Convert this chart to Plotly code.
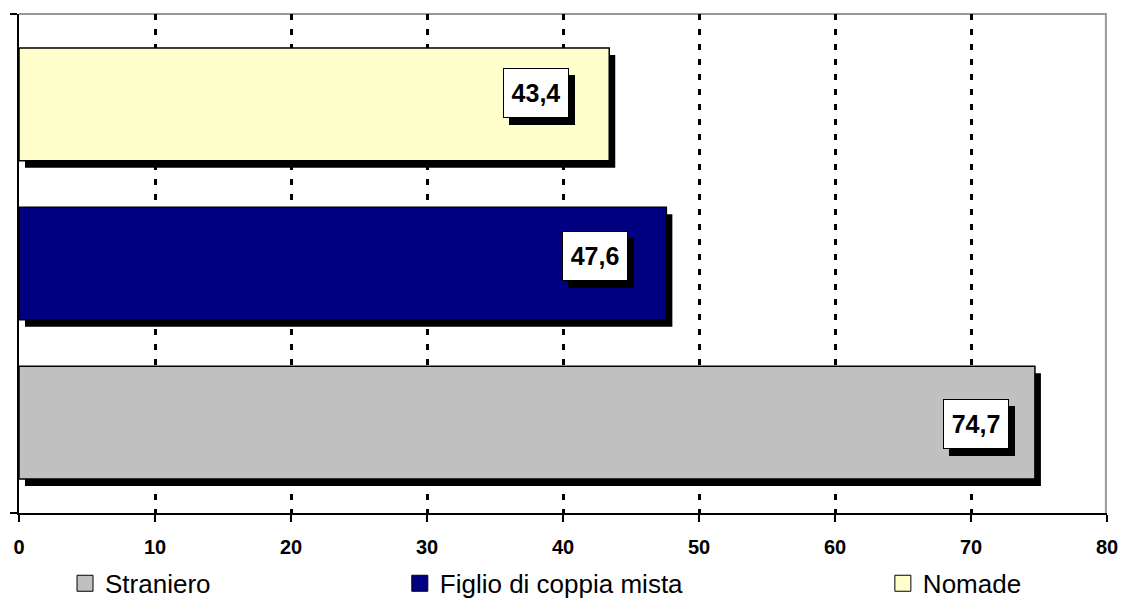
import plotly.graph_objects as go

# Percentuali per gruppo (dal basso verso l'alto)
categories = ["Straniero", "Figlio di coppia mista", "Nomade"]
values = [74.7, 47.6, 43.4]
bar_colors = ["#C0C0C0", "#000080", "#FFFFCC"]
x_ticks = [0, 10, 20, 30, 40, 50, 60, 70, 80]

FONT = "Liberation Sans, Arial, sans-serif"

# pixel geometry of the plot area, used to convert pixel offsets to data units
PLOT_W, PLOT_H = 1088, 498.5
X_RANGE = [0, 80]
Y_RANGE = [-0.568, 2.568]
px_x = PLOT_W / (X_RANGE[1] - X_RANGE[0])
px_y = PLOT_H / (Y_RANGE[1] - Y_RANGE[0])

BAR_W = 0.708
SHADOW_DX, SHADOW_DY = 6, 7  # drop-shadow offset in pixels

# value-label nudges in pixels (right edge of box relative to bar end, vertical)
label_dx = [-26, -38, -40]
label_dy = [-1, 8, 11]

fig = go.Figure()

ypos = list(range(len(categories)))

# drop shadow behind bars
fig.add_trace(go.Bar(
    y=[y - SHADOW_DY / px_y for y in ypos],
    x=values,
    base=[SHADOW_DX / px_x] * len(values),
    orientation="h",
    width=BAR_W,
    marker=dict(color="black", line=dict(width=0)),
    showlegend=False,
    hoverinfo="skip",
))

legend_names = ["legend", "legend2", "legend3"]
for i, (cat, val, col) in enumerate(zip(categories, values, bar_colors)):
    fig.add_trace(go.Bar(
        y=[ypos[i]],
        x=[val],
        orientation="h",
        width=BAR_W,
        name=cat,
        marker=dict(color=col, line=dict(color="black", width=1.5)),
        showlegend=False,
        hoverinfo="skip",
    ))
    # legend entry with a larger square swatch
    fig.add_trace(go.Scatter(
        x=[None], y=[None], mode="markers", name=cat,
        marker=dict(symbol="square", size=17, color=col,
                    line=dict(color="black", width=1)),
        legend=legend_names[i], showlegend=True, hoverinfo="skip",
    ))

# boxed value labels with a drop-shadow box behind
for i, val in enumerate(values):
    txt = f"{val:.1f}".replace(".", ",")
    common = dict(
        x=val, y=ypos[i], xref="x", yref="y",
        xanchor="right", yanchor="middle",
        showarrow=False,
        width=62, height=46, borderpad=1, borderwidth=1,
        font=dict(family=FONT, size=25, color="black", weight="bold"),
    )
    fig.add_annotation(**common, text=" ", bgcolor="black", bordercolor="black",
                       xshift=label_dx[i] + SHADOW_DX, yshift=label_dy[i] - SHADOW_DY)
    fig.add_annotation(**common, text=txt, bgcolor="white", bordercolor="black",
                       xshift=label_dx[i], yshift=label_dy[i])

# grey frame on top and right sides
fig.add_shape(type="line", xref="paper", yref="paper", x0=0, x1=1, y0=1, y1=1,
              line=dict(color="#999999", width=2), layer="below")
fig.add_shape(type="line", xref="paper", yref="paper", x0=0.999, x1=0.999, y0=0, y1=1,
              line=dict(color="#999999", width=2), layer="below")

legend_common = dict(
    orientation="h", xanchor="left", yanchor="middle", y=-0.141,
    font=dict(family=FONT, size=26, color="black"),
    bgcolor="rgba(0,0,0,0)", borderwidth=0, itemsizing="trace",
)

fig.update_layout(
    width=1121, height=599,
    margin=dict(l=19, r=14, t=14, b=86, autoexpand=False),
    paper_bgcolor="white", plot_bgcolor="white",
    barmode="overlay",
    xaxis=dict(
        range=X_RANGE, tickvals=x_ticks, ticktext=[str(t) for t in x_ticks],
        showgrid=True, gridcolor="black", gridwidth=2.5, griddash="6px,9px",
        showline=True, linecolor="black", linewidth=2,
        ticks="outside", ticklen=7, tickwidth=2, tickcolor="black",
        ticklabelstandoff=8,
        tickfont=dict(family=FONT, size=20, color="black", weight="bold"),
        zeroline=False, fixedrange=True,
    ),
    yaxis=dict(
        range=Y_RANGE, tickvals=[Y_RANGE[0], Y_RANGE[1]], showticklabels=False,
        showgrid=False, zeroline=False,
        showline=True, linecolor="black", linewidth=2,
        ticks="outside", ticklen=7, tickwidth=2, tickcolor="black",
        fixedrange=True,
    ),
    legend=dict(**legend_common, x=0.0423),
    legend2=dict(**legend_common, x=0.350),
    legend3=dict(**legend_common, x=0.794),
)

fig.write_html("out.html")
